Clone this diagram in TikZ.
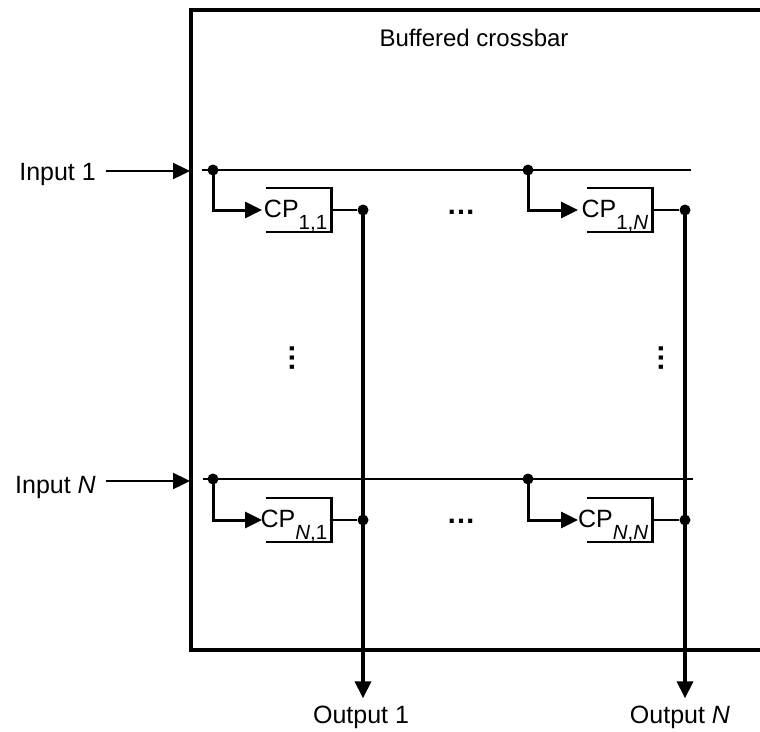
\documentclass[tikz,border=0pt]{standalone}
\usepackage{fontspec}
\setmainfont{Liberation Sans}
\usetikzlibrary{arrows.meta}

\newcommand{\labelfont}{\fontsize{25}{28}\selectfont}
\newcommand{\cpfont}{\fontsize{25}{28}\selectfont}
\newcommand{\cpsub}[1]{\raisebox{-12pt}{\fontsize{20.5}{22}\selectfont #1}}
\newcommand{\cptext}[1]{\makebox[65pt][r]{CP\cpsub{#1}\hspace{4pt}}}

\tikzset{
  wire/.style={line width=2.4pt},
  busline/.style={line width=2.2pt},
  thickwire/.style={line width=3.4pt},
  tri/.style={-{Triangle[length=17pt,width=16pt]}},
  junction/.style={circle,fill,inner sep=0pt,minimum size=11pt},
  cpbox/.style={minimum width=65pt,minimum height=44pt,inner sep=0pt,
    text height=29pt,text depth=15pt,font=\cpfont},
  label/.style={font=\labelfont,inner sep=0pt},
  dotsbox/.style={font=\fontsize{29}{30}\selectfont\bfseries,inner sep=0pt}
}

\begin{document}
\begin{tikzpicture}[x=1pt,y=-1pt]
\useasboundingbox (0,0) rectangle (760,731);

% crossbar frame
\draw[thickwire] (191,10) rectangle (775,650);
\node[font=\fontsize{24}{28}\selectfont,inner sep=0pt,anchor=base] (title) at (474,46) {Buffered crossbar};

% input buses
\coordinate (busA) at (202,170);
\coordinate (busAend) at (691,170);
\coordinate (busN) at (203,479);
\coordinate (busNend) at (693,479);
\draw[busline] (busA) -- (busAend);
\draw[busline] (busN) -- (busNend);

% input arrows
\node[label,anchor=base east] (in1) at (96,180) {Input 1};
\node[label,anchor=base east] (inN) at (96,493) {Input \textit{N}};
\coordinate (tipA) at (190,171);
\coordinate (tipN) at (190,481);
\draw[wire,tri,shorten <=10pt] (in1.east |- tipA) -- (tipA);
\draw[wire,tri,shorten <=10pt] (inN.east |- tipN) -- (tipN);

% crosspoint buffers
\node[cpbox,anchor=west] (cp11) at (266,210) {\cptext{1,1}};
\node[cpbox,anchor=west] (cp1N) at (587,210) {\cptext{1,\textit{N}}};
\node[cpbox,anchor=west] (cpN1) at (266,520) {\cptext{\textit{N},1}};
\node[cpbox,anchor=west] (cpNN) at (587,520) {\cptext{\textit{N},\textit{N}}};
\foreach \cp in {cp11,cp1N,cpN1,cpNN}
  \draw[wire] (\cp.north west) -- (\cp.north east) -- (\cp.south east) -- (\cp.south west);

% taps on the input buses
\node[junction] (b11) at (213,170) {};
\node[junction] (b1N) at (528,170) {};
\node[junction] (bN1) at (213,479) {};
\node[junction] (bNN) at (528,479) {};
\draw[wire,line width=3pt,tri,shorten >=4pt] (b11.center) |- (cp11.west);
\draw[wire,line width=3pt,tri,shorten >=9pt] (b1N.center) |- (cp1N.west);
\draw[wire,line width=3pt,tri,shorten >=4pt] (bN1.center) |- (cpN1.west);
\draw[wire,line width=3pt,tri,shorten >=9pt] (bNN.center) |- (cpNN.west);

% outputs
\node[junction] (o11) at (363,210) {};
\node[junction] (o1N) at (685,210) {};
\node[junction] (oN1) at (363,520) {};
\node[junction] (oNN) at (685,520) {};
\draw[busline] (cp11.east) -- (o11);
\draw[busline] (cp1N.east) -- (o1N);
\draw[busline] (cpN1.east) -- (oN1);
\draw[busline] (cpNN.east) -- (oNN);

\node[label,anchor=base] (out1) at (361,723) {Output 1};
\node[label,anchor=base] (outN) at (680,723) {Output \textit{N}};
\draw[thickwire,tri,shorten >=7pt] (o11.center) -- (o11 |- out1.north);
\draw[thickwire,tri,shorten >=7pt] (o1N.center) -- (o1N |- outN.north);

% ellipses
\node[dotsbox] (hdotsA) at (461,212) {…};
\node[dotsbox] (hdotsN) at (461,521) {…};
\node[dotsbox,rotate=90] (vdots1) at (292,358) {…};
\node[dotsbox,rotate=90] (vdotsN) at (661,358) {…};
\end{tikzpicture}
\end{document}
